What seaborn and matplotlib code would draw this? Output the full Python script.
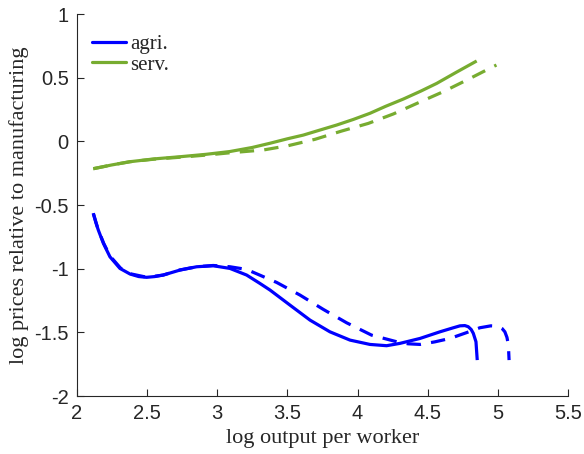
import matplotlib
matplotlib.use("Agg")
import matplotlib.pyplot as plt
import seaborn as sns
import pandas as pd
from matplotlib.lines import Line2D

# ---- data ----
agri_x = [2.116, 2.135, 2.152, 2.188, 2.235, 2.306, 2.378, 2.44, 2.496, 2.555, 2.615, 2.734, 2.853, 2.971,
          3.09, 3.209, 3.304, 3.376, 3.518, 3.661, 3.803, 3.946, 4.088, 4.207, 4.301, 4.445, 4.587, 4.68,
          4.73, 4.765, 4.789, 4.81, 4.825, 4.844, 4.853]
agri_y = [-0.565, -0.64, -0.697, -0.801, -0.907, -0.998, -1.042, -1.062, -1.068, -1.062, -1.05, -1.011,
          -0.985, -0.977, -0.998, -1.05, -1.116, -1.168, -1.286, -1.404, -1.496, -1.561, -1.595, -1.605,
          -1.587, -1.548, -1.496, -1.465, -1.449, -1.447, -1.456, -1.478, -1.508, -1.574, -1.718]

agri_alt_x = [2.116, 2.15, 2.19, 2.235, 2.31, 2.38, 2.5, 2.615, 2.734, 2.853, 2.971, 3.09, 3.209, 3.423,
              3.589, 3.756, 3.922, 4.1, 4.279, 4.36, 4.445, 4.55, 4.659, 4.77, 4.872, 4.95, 5.003, 5.03,
              5.05, 5.065, 5.075, 5.08]
agri_alt_y = [-0.565, -0.69, -0.80, -0.9, -0.995, -1.04, -1.068, -1.05, -1.01, -0.985, -0.975, -0.985,
              -1.006, -1.108, -1.207, -1.32, -1.425, -1.522, -1.574, -1.59, -1.595, -1.575, -1.548, -1.505,
              -1.464, -1.449, -1.452, -1.47, -1.496, -1.54, -1.6, -1.718]

serv_x = [2.116, 2.25, 2.378, 2.55, 2.734, 2.92, 3.09, 3.25, 3.376, 3.5, 3.613, 3.73, 3.851, 3.97, 4.088,
          4.2, 4.326, 4.45, 4.564, 4.7, 4.849]
serv_y = [-0.215, -0.185, -0.16, -0.138, -0.121, -0.102, -0.08, -0.048, -0.015, 0.02, 0.049, 0.088, 0.128,
          0.172, 0.22, 0.275, 0.332, 0.394, 0.455, 0.54, 0.631]

serv_alt_x = [2.116, 2.25, 2.378, 2.55, 2.734, 2.92, 3.09, 3.328, 3.506, 3.697, 3.887, 4.077, 4.255, 4.433,
              4.611, 4.789, 4.956, 4.99]
serv_alt_y = [-0.215, -0.185, -0.16, -0.14, -0.125, -0.108, -0.09, -0.068, -0.034, 0.016, 0.081, 0.141,
              0.215, 0.303, 0.39, 0.487, 0.581, 0.599]

x_ticks = [2, 2.5, 3, 3.5, 4, 4.5, 5, 5.5]
y_ticks = [-2, -1.5, -1, -0.5, 0, 0.5, 1]
x_ticklabels = ["2", "2.5", "3", "3.5", "4", "4.5", "5", "5.5"]
y_ticklabels = ["-2", "-1.5", "-1", "-0.5", "0", "0.5", "1"]

BLUE = "#0000FF"
GREEN = "#77AC30"

sns.set_style("ticks")
plt.rcParams["font.family"] = ["Liberation Sans", "DejaVu Sans"]
plt.rcParams["xtick.direction"] = "in"
plt.rcParams["ytick.direction"] = "in"

fig = plt.figure(figsize=(5.84, 4.54), dpi=100)
ax = fig.add_axes([77 / 584, 1 - 396 / 454, (568 - 77) / 584, (396 - 14) / 454])

lw = 2.3
curves = [
    (agri_x, agri_y, BLUE, "-"),
    (agri_alt_x, agri_alt_y, BLUE, "--"),
    (serv_x, serv_y, GREEN, "-"),
    (serv_alt_x, serv_alt_y, GREEN, "--"),
]
for xs, ys, col, ls in curves:
    df = pd.DataFrame({"x": xs, "y": ys})
    sns.lineplot(data=df, x="x", y="y", ax=ax, color=col, linewidth=lw,
                 estimator=None, sort=False, legend=False)
    l = ax.lines[-1]
    if ls == "--":
        l.set_dashes((4.5, 3.2))
    l.set_solid_capstyle("butt")
    l.set_solid_joinstyle("round")

ax.set_xlim(2, 5.5)
ax.set_ylim(-2, 1)
ax.set_xticks(x_ticks)
ax.set_xticklabels(x_ticklabels)
ax.set_yticks(y_ticks)
ax.set_yticklabels(y_ticklabels)
ax.tick_params(labelsize=14.5, length=5, width=0.8, colors="#262626", pad=6)
for s in ["left", "bottom"]:
    ax.spines[s].set_color("#262626")
    ax.spines[s].set_linewidth(0.8)
sns.despine(ax=ax)

ax.set_xlabel("log output per worker", fontfamily="Liberation Serif", fontsize=16, color="#262626")
ax.set_ylabel("log prices relative to manufacturing", fontfamily="Liberation Serif", fontsize=16,
              color="#262626")

handles = [Line2D([0], [0], color=BLUE, lw=lw), Line2D([0], [0], color=GREEN, lw=lw)]
leg = ax.legend(handles, ["agri.", "serv."], loc="upper left", frameon=False,
                prop={"family": "Liberation Serif", "size": 15}, handlelength=1.65,
                handletextpad=0.2, labelspacing=0.05, borderaxespad=0.3,
                bbox_to_anchor=(0.0, 0.985))

fig.savefig("out.png", dpi=100)
